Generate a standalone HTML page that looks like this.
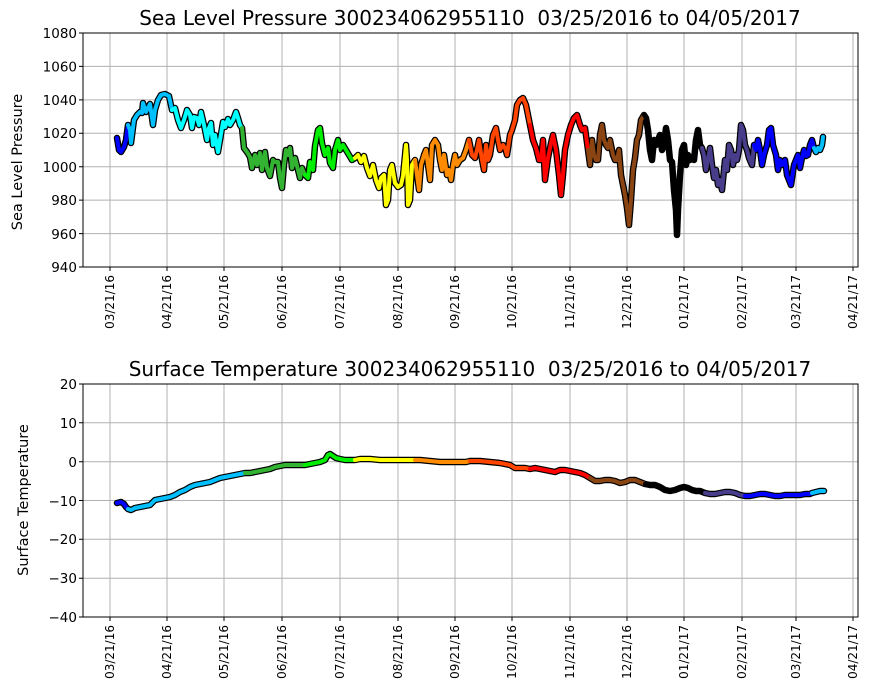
<!DOCTYPE html>
<html><head><style>body{margin:0;background:#fff}svg{display:block;font-family:"DejaVu Sans","Liberation Sans",sans-serif}</style></head>
<body>
<svg width="871" height="700" xmlns="http://www.w3.org/2000/svg">
<g stroke="#b0b0b0" stroke-width="1">
<line x1="110" y1="33" x2="110" y2="267"/><line x1="167" y1="33" x2="167" y2="267"/><line x1="224" y1="33" x2="224" y2="267"/><line x1="282" y1="33" x2="282" y2="267"/><line x1="340" y1="33" x2="340" y2="267"/><line x1="398" y1="33" x2="398" y2="267"/><line x1="455" y1="33" x2="455" y2="267"/><line x1="512" y1="33" x2="512" y2="267"/><line x1="570" y1="33" x2="570" y2="267"/><line x1="627" y1="33" x2="627" y2="267"/><line x1="684" y1="33" x2="684" y2="267"/><line x1="742" y1="33" x2="742" y2="267"/><line x1="796" y1="33" x2="796" y2="267"/><line x1="853" y1="33" x2="853" y2="267"/>
<line x1="83" y1="66.4" x2="858" y2="66.4"/><line x1="83" y1="99.9" x2="858" y2="99.9"/><line x1="83" y1="133.3" x2="858" y2="133.3"/><line x1="83" y1="166.7" x2="858" y2="166.7"/><line x1="83" y1="200.1" x2="858" y2="200.1"/><line x1="83" y1="233.6" x2="858" y2="233.6"/>
</g>
<g stroke="#b0b0b0" stroke-width="1">
<line x1="110" y1="384" x2="110" y2="617"/><line x1="167" y1="384" x2="167" y2="617"/><line x1="224" y1="384" x2="224" y2="617"/><line x1="282" y1="384" x2="282" y2="617"/><line x1="340" y1="384" x2="340" y2="617"/><line x1="398" y1="384" x2="398" y2="617"/><line x1="455" y1="384" x2="455" y2="617"/><line x1="512" y1="384" x2="512" y2="617"/><line x1="570" y1="384" x2="570" y2="617"/><line x1="627" y1="384" x2="627" y2="617"/><line x1="684" y1="384" x2="684" y2="617"/><line x1="742" y1="384" x2="742" y2="617"/><line x1="796" y1="384" x2="796" y2="617"/><line x1="853" y1="384" x2="853" y2="617"/>
<line x1="83" y1="422.8" x2="858" y2="422.8"/><line x1="83" y1="461.7" x2="858" y2="461.7"/><line x1="83" y1="500.5" x2="858" y2="500.5"/><line x1="83" y1="539.3" x2="858" y2="539.3"/><line x1="83" y1="578.2" x2="858" y2="578.2"/>
</g>
<g fill="none" stroke-linejoin="round" stroke-linecap="round">
<g stroke="#000" stroke-width="6.5">
<polyline points="117,138 119,150 121,152 124,147 126,140 128,125 130,130 131,143 134,120 137,115 140,112 142,113 143,103 146,112 148,108 150,104 153,125 155,110 158,100 161,95 165,94 169,96 172,110 175,108 178,120 181,128 184,120 187,110 190,115 192,128 194,117 197,118 199,125 201,112 204,125 207,140 209,128 211,123 213,145 215,135 218,152 220,140 223,122 225,127 228,119 230,125 233,120 236,112 238,118 240,125 242,128 244,148 247,152 250,157 252,168 255,155 257,165 260,153 262,170 265,152 267,168 270,176 273,160 275,162 278,162 280,178 282,188 284,165 286,150 288,155 290,148 292,168 295,158 298,170 300,178 302,168 305,175 308,178 310,162 313,170 315,146 318,130 320,128 322,143 325,155 328,148 330,163 333,168 335,150 338,140 340,150 343,145 346,150 349,155 352,160 355,158 358,155 361,162 364,156 367,168 370,176 373,165 376,180 379,188 381,178 384,175 386,205 388,200 390,170 392,165 395,183 398,187 401,185 403,176 406,145 407,160 408,205 410,200 412,165 415,160 417,175 419,190 421,165 424,155 426,150 428,165 430,180 432,145 435,140 438,145 440,160 442,170 444,155 447,175 449,170 451,180 453,165 455,155 457,165 460,160 463,158 466,150 469,140 472,155 475,158 477,150 479,140 482,160 484,170 486,145 488,160 490,155 493,135 496,128 498,140 500,150 503,145 505,148 507,155 510,135 512,130 515,120 517,105 520,100 523,98 526,105 530,125 533,140 536,148 539,160 541,160 543,140 545,180 548,158 551,143 553,135 556,150 559,175 561,195 563,175 565,150 568,135 571,125 574,118 577,115 580,125 582,130 585,128 588,150 590,165 592,140 594,155 596,160 598,160 600,135 602,125 604,140 606,145 608,148 610,140 613,155 615,160 617,160 619,150 621,175 623,185 625,195 627,208 629,225 631,200 633,170 635,158 637,140 639,135 641,120 644,115 646,118 648,130 650,150 652,160 654,140 656,145 658,140 660,135 662,150 664,145 666,128 668,140 670,160 672,162 674,190 676,210 677,235 678,210 680,175 682,150 684,145 686,165 688,155 690,160 692,158 694,160 696,140 698,130 700,145 702,148 704,155 706,170 708,160 710,148 712,165 714,178 716,170 718,185 720,180 722,190 725,160 727,170 729,145 731,150 733,165 735,155 737,160 739,150 741,125 743,130 745,145 747,150 749,158 752,165 754,145 756,150 758,140 760,150 762,165 764,155 767,145 769,130 771,128 773,145 776,155 778,170 780,160 782,165 785,160 787,175 789,180 791,185 794,165 796,160 798,155 800,168 802,158 804,150 806,156 808,155 810,145 812,140 814,148 816,152 818,148 820,150 822,145 823,137"/>
<polyline points="117,503 121,502 124,504 126,507 128,509 131,510 135,508 140,507 145,506 150,505 153,502 155,500 160,499 165,498 170,497 175,495 180,492 185,490 190,487 195,485 200,484 205,483 210,482 215,480 220,478 225,477 230,476 235,475 240,474 245,473 250,473 255,472 260,471 265,470 270,469 275,467 280,466 285,465 290,465 295,465 300,465 305,465 310,464 315,463 320,462 325,460 328,455 330,454 333,456 336,458 340,459 345,460 350,460 355,460 360,459 370,459 380,460 390,460 400,460 410,460 415,460 420,460 430,461 440,462 450,462 460,462 466,462 470,461 480,461 490,462 500,463 510,465 515,468 520,468 525,468 530,469 535,468 540,469 545,470 550,471 555,472 560,470 565,470 570,471 575,472 580,473 585,475 590,478 595,481 600,481 605,480 610,480 615,481 620,483 625,482 630,480 635,480 640,482 645,484 650,485 655,485 660,487 665,490 670,491 675,490 680,488 684,487 688,488 692,490 696,491 700,491 705,493 710,494 715,494 720,493 725,492 730,492 735,493 740,495 745,496 750,496 755,495 760,494 765,494 770,495 775,496 780,496 785,495 790,495 795,495 800,495 805,494 810,494 812,493 816,492 820,491 824,491"/>
</g>
<g stroke-width="4">
<polyline stroke="#0000ff" points="117,138 119,150 121,152 124,147 126,140 128,125"/>
<polyline stroke="#00bfff" points="128,125 130,130 131,143 134,120 137,115 140,112 142,113 143,103 146,112 148,108 150,104 153,125 155,110 158,100 161,95 165,94 169,96 172,110"/>
<polyline stroke="#00ffff" points="172,110 175,108 178,120 181,128 184,120 187,110 190,115 192,128 194,117 197,118 199,125 201,112 204,125 207,140 209,128 211,123 213,145 215,135 218,152 220,140 223,122 225,127 228,119 230,125 233,120 236,112 238,118 240,125 242,128"/>
<polyline stroke="#32b432" points="242,128 244,148 247,152 250,157 252,168 255,155 257,165 260,153 262,170 265,152 267,168 270,176 273,160 275,162 278,162 280,178 282,188 284,165 286,150 288,155 290,148 292,168 295,158 298,170 300,178 302,168 305,175"/>
<polyline stroke="#00ee00" points="305,175 308,178 310,162 313,170 315,146 318,130 320,128 322,143 325,155 328,148 330,163 333,168 335,150 338,140 340,150 343,145 346,150 349,155 352,160 355,158"/>
<polyline stroke="#ffff00" points="355,158 358,155 361,162 364,156 367,168 370,176 373,165 376,180 379,188 381,178 384,175 386,205 388,200 390,170 392,165 395,183 398,187 401,185 403,176 406,145 407,160 408,205 410,200 412,165 415,160"/>
<polyline stroke="#ff8c00" points="415,160 417,175 419,190 421,165 424,155 426,150 428,165 430,180 432,145 435,140 438,145 440,160 442,170 444,155 447,175 449,170 451,180 453,165 455,155 457,165 460,160 463,158 466,150 469,140"/>
<polyline stroke="#ff4500" points="469,140 472,155 475,158 477,150 479,140 482,160 484,170 486,145 488,160 490,155 493,135 496,128 498,140 500,150 503,145 505,148 507,155 510,135 512,130 515,120 517,105 520,100 523,98 526,105 530,125"/>
<polyline stroke="#ff0000" points="530,125 533,140 536,148 539,160 541,160 543,140 545,180 548,158 551,143 553,135 556,150 559,175 561,195 563,175 565,150 568,135 571,125 574,118 577,115 580,125 582,130 585,128 588,150"/>
<polyline stroke="#8b4513" points="588,150 590,165 592,140 594,155 596,160 598,160 600,135 602,125 604,140 606,145 608,148 610,140 613,155 615,160 617,160 619,150 621,175 623,185 625,195 627,208 629,225 631,200 633,170 635,158 637,140 639,135 641,120 644,115"/>
<polyline stroke="#000000" points="644,115 646,118 648,130 650,150 652,160 654,140 656,145 658,140 660,135 662,150 664,145 666,128 668,140 670,160 672,162 674,190 676,210 677,235 678,210 680,175 682,150 684,145 686,165 688,155 690,160 692,158 694,160 696,140 698,130 700,145 702,148"/>
<polyline stroke="#483d8b" points="702,148 704,155 706,170 708,160 710,148 712,165 714,178 716,170 718,185 720,180 722,190 725,160 727,170 729,145 731,150 733,165 735,155 737,160 739,150 741,125 743,130 745,145 747,150 749,158 752,165 754,145"/>
<polyline stroke="#0000ff" points="754,145 756,150 758,140 760,150 762,165 764,155 767,145 769,130 771,128 773,145 776,155 778,170 780,160 782,165 785,160 787,175 789,180 791,185 794,165 796,160 798,155 800,168 802,158 804,150 806,156 808,155 810,145 812,140 814,148"/>
<polyline stroke="#00bfff" points="814,148 816,152 818,148 820,150 822,145 823,137"/>

<polyline stroke="#0000ff" points="117,503 121,502 124,504 126,507 128,509"/>
<polyline stroke="#00bfff" points="128,509 131,510 135,508 140,507 145,506 150,505 153,502 155,500 160,499 165,498 170,497 175,495 180,492 185,490 190,487 195,485 200,484 205,483 210,482 215,480 220,478 225,477 230,476 235,475 240,474 245,473"/>
<polyline stroke="#32b432" points="245,473 250,473 255,472 260,471 265,470 270,469 275,467 280,466 285,465 290,465 295,465 300,465 305,465"/>
<polyline stroke="#00ee00" points="305,465 310,464 315,463 320,462 325,460 328,455 330,454 333,456 336,458 340,459 345,460 350,460 355,460"/>
<polyline stroke="#ffff00" points="355,460 360,459 370,459 380,460 390,460 400,460 410,460 415,460"/>
<polyline stroke="#ff8c00" points="415,460 420,460 430,461 440,462 450,462 460,462 466,462 470,461"/>
<polyline stroke="#ff4500" points="470,461 480,461 490,462 500,463 510,465 515,468 520,468 525,468 530,469"/>
<polyline stroke="#ff0000" points="530,469 535,468 540,469 545,470 550,471 555,472 560,470 565,470 570,471 575,472 580,473 585,475 590,478"/>
<polyline stroke="#8b4513" points="590,478 595,481 600,481 605,480 610,480 615,481 620,483 625,482 630,480 635,480 640,482 645,484"/>
<polyline stroke="#000000" points="645,484 650,485 655,485 660,487 665,490 670,491 675,490 680,488 684,487 688,488 692,490 696,491 700,491 705,493"/>
<polyline stroke="#483d8b" points="705,493 710,494 715,494 720,493 725,492 730,492 735,493 740,495 745,496"/>
<polyline stroke="#0000ff" points="745,496 750,496 755,495 760,494 765,494 770,495 775,496 780,496 785,495 790,495 795,495 800,495 805,494 810,494 812,493"/>
<polyline stroke="#00bfff" points="812,493 816,492 820,491 824,491"/>
</g>
</g>
<rect x="83" y="33" width="775" height="234" fill="none" stroke="#000" stroke-width="1"/>
<rect x="83" y="384" width="775" height="233" fill="none" stroke="#000" stroke-width="1"/>
<g font-size="13.5" text-anchor="end" fill="#000">
<text x="77" y="38">1080</text><text x="77" y="71.5">1060</text><text x="77" y="105">1040</text><text x="77" y="138">1020</text><text x="77" y="172">1000</text><text x="77" y="205">980</text><text x="77" y="239">960</text><text x="77" y="272">940</text>
<text x="77" y="389">20</text><text x="77" y="428">10</text><text x="77" y="467">0</text><text x="77" y="506">−10</text><text x="77" y="544">−20</text><text x="77" y="583">−30</text><text x="77" y="622">−40</text>
</g>
<g stroke="#000" stroke-width="1">
<path d="M79 33H83M79 66.4H83M79 99.9H83M79 133.3H83M79 166.7H83M79 200.1H83M79 233.6H83M79 267H83M79 384H83M79 422.8H83M79 461.7H83M79 500.5H83M79 539.3H83M79 578.2H83M79 617H83"/>
<path d="M110 267V271M167 267V271M224 267V271M282 267V271M340 267V271M398 267V271M455 267V271M512 267V271M570 267V271M627 267V271M684 267V271M742 267V271M796 267V271M853 267V271M110 617V621M167 617V621M224 617V621M282 617V621M340 617V621M398 617V621M455 617V621M512 617V621M570 617V621M627 617V621M684 617V621M742 617V621M796 617V621M853 617V621"/>
</g>
<g font-size="12" text-anchor="end" fill="#000">
<text transform="translate(114,275) rotate(-90)">03/21/16</text><text transform="translate(171,275) rotate(-90)">04/21/16</text><text transform="translate(228,275) rotate(-90)">05/21/16</text><text transform="translate(286,275) rotate(-90)">06/21/16</text><text transform="translate(344,275) rotate(-90)">07/21/16</text><text transform="translate(402,275) rotate(-90)">08/21/16</text><text transform="translate(459,275) rotate(-90)">09/21/16</text><text transform="translate(516,275) rotate(-90)">10/21/16</text><text transform="translate(574,275) rotate(-90)">11/21/16</text><text transform="translate(631,275) rotate(-90)">12/21/16</text><text transform="translate(688,275) rotate(-90)">01/21/17</text><text transform="translate(746,275) rotate(-90)">02/21/17</text><text transform="translate(800,275) rotate(-90)">03/21/17</text><text transform="translate(857,275) rotate(-90)">04/21/17</text>
<text transform="translate(114,625) rotate(-90)">03/21/16</text><text transform="translate(171,625) rotate(-90)">04/21/16</text><text transform="translate(228,625) rotate(-90)">05/21/16</text><text transform="translate(286,625) rotate(-90)">06/21/16</text><text transform="translate(344,625) rotate(-90)">07/21/16</text><text transform="translate(402,625) rotate(-90)">08/21/16</text><text transform="translate(459,625) rotate(-90)">09/21/16</text><text transform="translate(516,625) rotate(-90)">10/21/16</text><text transform="translate(574,625) rotate(-90)">11/21/16</text><text transform="translate(631,625) rotate(-90)">12/21/16</text><text transform="translate(688,625) rotate(-90)">01/21/17</text><text transform="translate(746,625) rotate(-90)">02/21/17</text><text transform="translate(800,625) rotate(-90)">03/21/17</text><text transform="translate(857,625) rotate(-90)">04/21/17</text>
</g>
<g font-size="20" text-anchor="middle" fill="#000">
<text x="470" y="25">Sea Level Pressure 300234062955110&#160; 03/25/2016 to 04/05/2017</text>
<text x="470" y="376">Surface Temperature 300234062955110&#160; 03/25/2016 to 04/05/2017</text>
</g>
<g font-size="14.5" text-anchor="middle" fill="#000">
<text transform="translate(22,162) rotate(-90)">Sea Level Pressure</text>
<text transform="translate(28,500) rotate(-90)">Surface Temperature</text>
</g>
</svg>
</body></html>
